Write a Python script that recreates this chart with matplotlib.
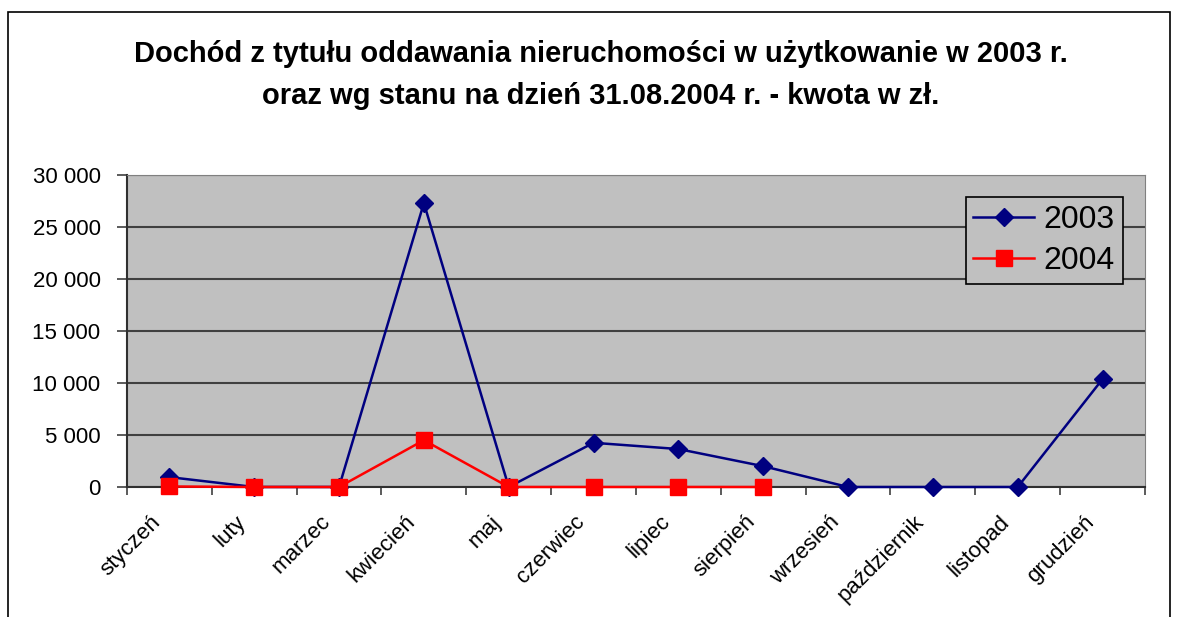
import numpy as np
import matplotlib.pyplot as plt
from matplotlib.patches import Rectangle
from matplotlib.ticker import FuncFormatter
from matplotlib.transforms import ScaledTranslation

plt.rcParams['font.family'] = ['Liberation Sans', 'DejaVu Sans']

# dane
months = ['styczeń', 'luty', 'marzec', 'kwiecień', 'maj', 'czerwiec', 'lipiec',
          'sierpień', 'wrzesień', 'październik', 'listopad', 'grudzień']
values_2003 = [950, 0, 0, 27300, 0, 4250, 3650, 2000, 0, 0, 0, 10380]
values_2004 = [50, 0, 0, 4500, 0, 0, 0, 0]

fig = plt.figure(figsize=(11.82, 6.17), dpi=100)
ax = fig.add_axes([0.1074, 0.2107, 0.8613, 0.5057])

# ramka wokół całego wykresu
fig.patches.append(Rectangle((8 / 1182, -0.1), 1162 / 1182, 1 - 12 / 617 + 0.1,
                             transform=fig.transFigure, fill=False,
                             edgecolor='black', linewidth=1.2))

x = np.arange(len(months))
ax.plot(x, values_2003, color='#000080', marker='D', markersize=9,
        linewidth=1.8, label='2003', clip_on=False, zorder=3)
ax.plot(x[:len(values_2004)], values_2004, color='red', marker='s',
        markersize=11, linewidth=1.8, label='2004', clip_on=False, zorder=4)

ax.set_facecolor('#c0c0c0')
ax.set_xlim(-0.5, len(months) - 0.5)
ax.set_ylim(0, 30000)
ax.set_yticks(np.arange(0, 30001, 5000))
ax.yaxis.set_major_formatter(FuncFormatter(lambda v, p: f'{int(v):,}'.replace(',', ' ')))
ax.grid(axis='y', color='#404040', linewidth=1.5)
ax.set_axisbelow(True)

ax.set_xticks(x)
ax.set_xticklabels(months, rotation=45, ha='right', rotation_mode='anchor', fontsize=16)
ax.tick_params(axis='x', length=0, pad=14)
shift = ScaledTranslation(-19 / 100, -5 / 100, fig.dpi_scale_trans)
for lbl in ax.get_xticklabels():
    lbl.set_transform(lbl.get_transform() + shift)
ax.set_xticks(np.arange(-0.5, len(months), 1), minor=True)
ax.tick_params(axis='x', which='minor', length=6, direction='out', width=1.2, color='#404040')
ax.tick_params(axis='y', length=7, width=1.2, color='#404040', labelsize=16, pad=12)

for side in ['top', 'right']:
    ax.spines[side].set_color('#808080')
for side in ['left', 'bottom']:
    ax.spines[side].set_color('#303030')
    ax.spines[side].set_linewidth(1.5)

leg = ax.legend(loc='upper right', bbox_to_anchor=(0.9784, 0.9295), fontsize=23,
                frameon=True, fancybox=False, framealpha=1, edgecolor='black',
                facecolor='#c0c0c0', handlelength=1.9, handletextpad=0.3,
                borderpad=0.25, labelspacing=0.35, borderaxespad=0)
leg.get_frame().set_linewidth(1.2)

fig.text(0.5085, 0.935, 'Dochód z tytułu oddawania nieruchomości w użytkowanie w 2003 r.\n'
         'oraz wg stanu na dzień 31.08.2004 r. - kwota w zł.',
         ha='center', va='top', fontsize=21, fontweight='bold', linespacing=1.64)

fig.savefig('out.png', dpi=100)
